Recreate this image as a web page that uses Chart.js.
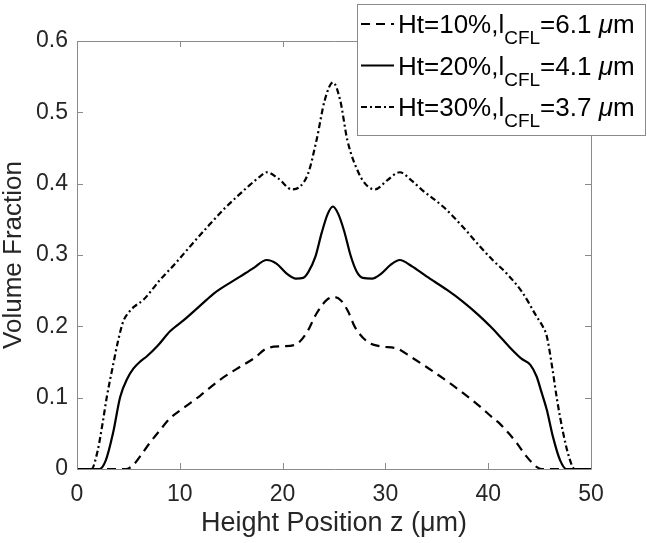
<!DOCTYPE html>
<html><head><meta charset="utf-8">
<script src="https://cdn.jsdelivr.net/npm/chart.js@4/dist/chart.umd.min.js"></script>
<style>html,body{margin:0;padding:0;background:#fff;}</style>
</head><body>
<canvas id="c" width="647" height="543"></canvas>
<script>
// ---- data ----
const htLabels = ['Ht=10%', 'Ht=20%', 'Ht=30%'];
const lcflValues = ['6.1', '4.1', '3.7'];

const z10 = [0, 4.8, 5.5, 6.1, 7.0, 8.1, 9.05, 10.5, 12.0, 13.9, 15.5, 17.2, 18.45, 19.9, 21.2, 22.3, 23.3, 24.3, 25.0, 25.7, 26.4, 27.0, 28.2, 29.5, 31.1, 32.5, 34.0, 36.3, 37.6, 39.0, 40.5, 41.1, 42.0, 42.8, 43.7, 44.7, 45.2, 50];
const v10 = [0, 0, 0.006, 0.017, 0.035, 0.055, 0.071, 0.087, 0.103, 0.125, 0.14, 0.155, 0.169, 0.172, 0.174, 0.19, 0.218, 0.237, 0.241, 0.236, 0.22, 0.2, 0.179, 0.172, 0.169, 0.157, 0.143, 0.12, 0.106, 0.09, 0.071, 0.064, 0.05, 0.036, 0.018, 0.003, 0, 0];

const z20 = [0, 2.2, 2.8, 3.5, 4.2, 4.9, 5.5, 6.1, 6.8, 7.8, 9.05, 10.5, 12.6, 13.3, 15.9, 17.2, 18.45, 19.4, 20.4, 21.3, 22.0, 22.5, 23.2, 23.8, 24.4, 24.9, 25.4, 26.0, 26.6, 27.2, 27.8, 28.7, 29.6, 30.5, 31.4, 32.5, 34.0, 36.0, 37.5, 39.2, 40.2, 41.0, 42.0, 43.2, 44.1, 44.7, 45.2, 45.7, 46.3, 47.0, 47.6, 50];
const v20 = [0, 0, 0.012, 0.05, 0.101, 0.127, 0.141, 0.15, 0.158, 0.172, 0.193, 0.21, 0.237, 0.246, 0.27, 0.282, 0.293, 0.288, 0.274, 0.267, 0.268, 0.276, 0.298, 0.331, 0.358, 0.368, 0.358, 0.333, 0.3, 0.277, 0.268, 0.267, 0.274, 0.286, 0.293, 0.285, 0.27, 0.251, 0.235, 0.214, 0.2, 0.188, 0.172, 0.155, 0.146, 0.13, 0.107, 0.083, 0.045, 0.012, 0, 0];

const z30 = [0, 1.4, 2.0, 2.5, 2.9, 3.5, 4.0, 4.5, 5.0, 5.6, 6.45, 8.07, 9.5, 11.0, 12.6, 14.2, 15.5, 16.8, 17.8, 18.45, 19.6, 20.9, 21.7, 22.5, 23.3, 24.1, 24.9, 25.6, 26.3, 27.4, 28.3, 29.0, 30.2, 31.4, 32.5, 33.5, 35.6, 37.5, 39.2, 40.5, 41.8, 43.3, 44.7, 45.3, 45.7, 46.2, 46.7, 47.3, 47.9, 48.4, 50];
const v30 = [0, 0, 0.025, 0.065, 0.101, 0.145, 0.18, 0.207, 0.219, 0.228, 0.237, 0.265, 0.287, 0.312, 0.338, 0.363, 0.381, 0.398, 0.41, 0.416, 0.407, 0.392, 0.396, 0.415, 0.461, 0.517, 0.542, 0.517, 0.461, 0.415, 0.396, 0.392, 0.405, 0.416, 0.405, 0.392, 0.368, 0.34, 0.312, 0.292, 0.274, 0.248, 0.214, 0.2, 0.186, 0.145, 0.097, 0.05, 0.015, 0, 0];

const xTicks = [0, 10, 20, 30, 40, 50];
const yTicks = [0, 0.1, 0.2, 0.3, 0.4, 0.5, 0.6];

// ---- chart ----
const FONT = '"Liberation Sans", Arial, Helvetica, sans-serif';
const TXT = '#262626';
const AX = '#8a8a8a';
const dashes = [[9, 6], [], [6, 3, 2, 3]];

function pts(zs, vs) { return zs.map((z, i) => ({ x: z, y: vs[i] })); }
const seriesData = [pts(z10, v10), pts(z20, v20), pts(z30, v30)];

const datasets = seriesData.map((d, i) => ({
  label: htLabels[i] + ',lCFL=' + lcflValues[i] + ' μm',
  data: d,
  borderColor: '#000',
  borderWidth: 2.2,
  borderDash: dashes[i],
  pointRadius: 0,
  fill: false,
  cubicInterpolationMode: 'monotone',
  clip: false
}));

const frame = {
  id: 'frame',
  afterDatasetsDraw(chart) {
    const { ctx, chartArea: a, scales: { x, y } } = chart;
    ctx.save();
    ctx.strokeStyle = AX; ctx.lineWidth = 1;
    ctx.beginPath();
    ctx.rect(Math.round(a.left) + 0.5, Math.round(a.top) + 0.5, Math.round(a.right - a.left), Math.round(a.bottom - a.top));
    const L = 6;
    xTicks.forEach(t => {
      const px = Math.round(x.getPixelForValue(t)) + 0.5;
      ctx.moveTo(px, a.bottom); ctx.lineTo(px, a.bottom - L);
      ctx.moveTo(px, a.top); ctx.lineTo(px, a.top + L);
    });
    yTicks.forEach(t => {
      const py = Math.round(y.getPixelForValue(t)) + 0.5;
      ctx.moveTo(a.left, py); ctx.lineTo(a.left + L, py);
      ctx.moveTo(a.right, py); ctx.lineTo(a.right - L, py);
    });
    ctx.stroke();
    ctx.restore();
  }
};

const legend = {
  id: 'matlabLegend',
  afterDraw(chart) {
    const ctx = chart.ctx;
    const bx = 357, by = 4, bw = 288, bh = 131;
    ctx.save();
    ctx.fillStyle = '#fff';
    ctx.fillRect(bx, by, bw, bh);
    ctx.strokeStyle = AX; ctx.lineWidth = 1;
    ctx.strokeRect(bx + 0.5, by + 0.5, bw, bh);
    const rowH = 41.5, base0 = 33;
    chart.data.datasets.forEach((ds, i) => {
      const base = base0 + i * rowH;
      const cy = base - 9;
      ctx.strokeStyle = '#000'; ctx.lineWidth = 2.2;
      ctx.setLineDash(ds.borderDash || []);
      ctx.beginPath(); ctx.moveTo(361, cy); ctx.lineTo(394, cy); ctx.stroke();
      ctx.setLineDash([]);
      ctx.fillStyle = '#000';
      ctx.textBaseline = 'alphabetic'; ctx.textAlign = 'left';
      let xx = 398;
      const main = '26px ' + FONT, sub = '19px ' + FONT, it = 'italic 26px ' + FONT;
      ctx.font = main; let s = htLabels[i] + ',l'; ctx.fillText(s, xx, base); xx += ctx.measureText(s).width;
      ctx.font = sub; s = 'CFL'; ctx.fillText(s, xx, base + 11); xx += ctx.measureText(s).width;
      ctx.font = main; s = '=' + lcflValues[i] + ' '; ctx.fillText(s, xx, base); xx += ctx.measureText(s).width;
      ctx.font = it; s = 'μ'; ctx.fillText(s, xx, base); xx += ctx.measureText(s).width;
      ctx.font = main; ctx.fillText('m', xx, base);
    });
    ctx.restore();
  }
};

new Chart(document.getElementById('c'), {
  type: 'line',
  data: { datasets },
  options: {
    responsive: false,
    animation: false,
    devicePixelRatio: 1,
    layout: { padding: { left: 0, right: 56, top: 41, bottom: 0 } },
    plugins: { legend: { display: false }, tooltip: { enabled: false } },
    scales: {
      x: {
        type: 'linear', min: 0, max: 50,
        afterBuildTicks: s => { s.ticks = xTicks.map(v => ({ value: v })); },
        afterFit: s => { s.height = 74; },
        grid: { display: false, drawTicks: false },
        border: { display: false },
        ticks: { color: TXT, font: { family: FONT, size: 23 }, padding: 12, maxRotation: 0 },
        title: { display: true, text: 'Height Position z (μm)', color: TXT, font: { family: FONT, size: 27, lineHeight: 1 }, padding: { top: 0, bottom: 6 } }
      },
      y: {
        type: 'linear', min: 0, max: 0.6,
        afterBuildTicks: s => { s.ticks = yTicks.map(v => ({ value: v })); },
        afterFit: s => { s.width = 77; },
        grid: { display: false, drawTicks: false },
        border: { display: false },
        ticks: { color: TXT, font: { family: FONT, size: 23 }, padding: 9, callback: v => String(Math.round(v * 10) / 10) },
        title: { display: true, text: 'Volume Fraction', color: TXT, font: { family: FONT, size: 26, lineHeight: 1 }, padding: { top: 1, bottom: 0 } }
      }
    }
  },
  plugins: [frame, legend]
});
</script>
</body></html>
